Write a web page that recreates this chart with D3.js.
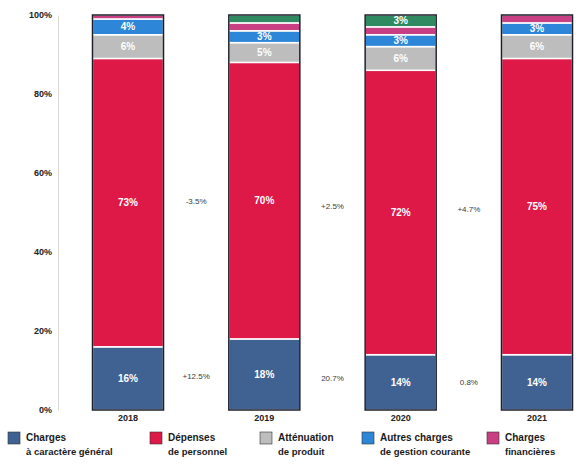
<!DOCTYPE html>
<html>
<head>
<meta charset="utf-8">
<script src="https://cdn.jsdelivr.net/npm/d3@7"></script>
<style>
  html, body { margin: 0; padding: 0; background: #fff; }
  svg { display: block; font-family: "Liberation Sans", Arial, sans-serif; }
</style>
</head>
<body>
<svg id="chart" width="587" height="473"></svg>
<script>
// Years on the x axis
const years = ["2018", "2019", "2020", "2021"];

// Share of operating expenses per category (%)
const chargesGenerales   = [16, 18, 14, 14];
const depensesPersonnel  = [73, 70, 72, 75];
const attenuationProduit = [6, 5, 6, 6];
const autresCharges      = [4, 3, 3, 3];
const chargesFinancieres = [1, 2, 2, 2];
const autresDepenses     = [0, 2, 3, 0];

// Year-on-year change labels between bars
const variationPersonnel = ["-3.5%", "+2.5%", "+4.7%"];
const variationGenerales = ["+12.5%", "20.7%", "0.8%"];

const yTicks = [0, 20, 40, 60, 80, 100];

const series = [
  { key: "gen",  label: ["Charges", "à caractère général"],        values: chargesGenerales,   color: "#3f6293" },
  { key: "pers", label: ["Dépenses", "de personnel"],              values: depensesPersonnel,  color: "#de1847" },
  { key: "att",  label: ["Atténuation", "de produit"],             values: attenuationProduit, color: "#bdbdbd" },
  { key: "aut",  label: ["Autres charges", "de gestion courante"], values: autresCharges,      color: "#2d86d8" },
  { key: "fin",  label: ["Charges", "financières"],                values: chargesFinancieres, color: "#c93f83" },
  { key: "div",  label: null,                                      values: autresDepenses,     color: "#2f8a62" }
];

const svg = d3.select("#chart");
const barW = 71;

const x = d3.scalePoint().domain(years).range([128, 537]);
const y = d3.scaleLinear().domain([0, 100]).range([410, 15]);

// Y axis
const yAxis = svg.append("g")
  .attr("transform", "translate(58,0)")
  .call(d3.axisLeft(y).tickValues(yTicks).tickFormat(d => d + "%").tickSize(0).tickPadding(6));
yAxis.select(".domain").attr("stroke", "#d8d8d8").attr("stroke-width", 1);
yAxis.selectAll("text")
  .attr("font-size", 9).attr("font-weight", "bold").attr("fill", "#222")
  .attr("font-family", "Liberation Sans, Arial, sans-serif");

// Stack the categories
const rows = years.map((yr, i) => {
  const r = { year: yr };
  series.forEach(s => r[s.key] = s.values[i]);
  return r;
});
const stacked = d3.stack().keys(series.map(s => s.key))(rows);

const layers = svg.append("g").selectAll("g")
  .data(stacked)
  .join("g")
  .attr("fill", (d, i) => series[i].color);

layers.selectAll("rect")
  .data(d => d)
  .join("rect")
  .attr("x", d => x(d.data.year) - barW / 2)
  .attr("width", barW)
  .attr("y", d => y(d[1]))
  .attr("height", d => y(d[0]) - y(d[1]))
  .attr("stroke", "#fff")
  .attr("stroke-width", d => (d[1] - d[0]) > 0 ? 1.5 : 0);

// Dark outline around each bar
svg.append("g").selectAll("rect")
  .data(years)
  .join("rect")
  .attr("x", d => x(d) - barW / 2)
  .attr("width", barW)
  .attr("y", y(100))
  .attr("height", y(0) - y(100))
  .attr("fill", "none")
  .attr("stroke", "#1e1e2a")
  .attr("stroke-width", 1.5);

// Percentage labels inside the segments
const labels = [];
stacked.forEach(layer => {
  layer.forEach(d => {
    const v = d[1] - d[0];
    if (v >= 3) labels.push({ year: d.data.year, v, mid: (d[0] + d[1]) / 2 });
  });
});
svg.append("g").selectAll("text")
  .data(labels)
  .join("text")
  .attr("x", d => x(d.year))
  .attr("y", d => y(d.mid))
  .attr("dy", "0.35em")
  .attr("text-anchor", "middle")
  .attr("font-size", 10)
  .attr("font-weight", "bold")
  .attr("fill", "#fff")
  .text(d => d.v + "%");

// Year labels under the bars
svg.append("g").selectAll("text")
  .data(years)
  .join("text")
  .attr("x", d => x(d))
  .attr("y", y(0) + 11)
  .attr("text-anchor", "middle")
  .attr("font-size", 9)
  .attr("font-weight", "bold")
  .attr("fill", "#222")
  .text(d => d);

// Variation labels between consecutive bars
function midBetween(i) { return (x(years[i]) + x(years[i + 1])) / 2; }
function segMid(s, i) {
  let base = 0;
  for (const t of series) { if (t === s) break; base += t.values[i]; }
  return base + s.values[i] / 2;
}
const varGroup = svg.append("g");
function addVariation(t, i, s) {
  const m = (segMid(s, i) + segMid(s, i + 1)) / 2;
  varGroup.append("text")
    .attr("x", midBetween(i)).attr("y", y(m)).attr("dy", "0.35em")
    .attr("text-anchor", "middle")
    .attr("font-size", 8)
    .attr("fill", "#3a3a3a")
    .text(t);
}
variationPersonnel.forEach((t, i) => addVariation(t, i, series[1]));
variationGenerales.forEach((t, i) => addVariation(t, i, series[0]));

// Legend
const legendX = [8, 150, 260, 362, 487];
const legend = svg.append("g").selectAll("g")
  .data(series.filter(s => s.label))
  .join("g")
  .attr("transform", (d, i) => `translate(${legendX[i]},432)`);
legend.append("rect")
  .attr("width", 12).attr("height", 12)
  .attr("fill", d => d.color)
  .attr("stroke", "#333").attr("stroke-width", 0.6);
legend.append("text")
  .attr("x", 18).attr("y", 9)
  .attr("font-size", 10).attr("font-weight", "bold").attr("fill", "#1a1a1a")
  .text(d => d.label[0]);
legend.append("text")
  .attr("x", 18).attr("y", 23)
  .attr("font-size", 9.5).attr("font-weight", "bold").attr("fill", "#1a1a1a")
  .text(d => d.label[1]);
</script>
</body>
</html>
